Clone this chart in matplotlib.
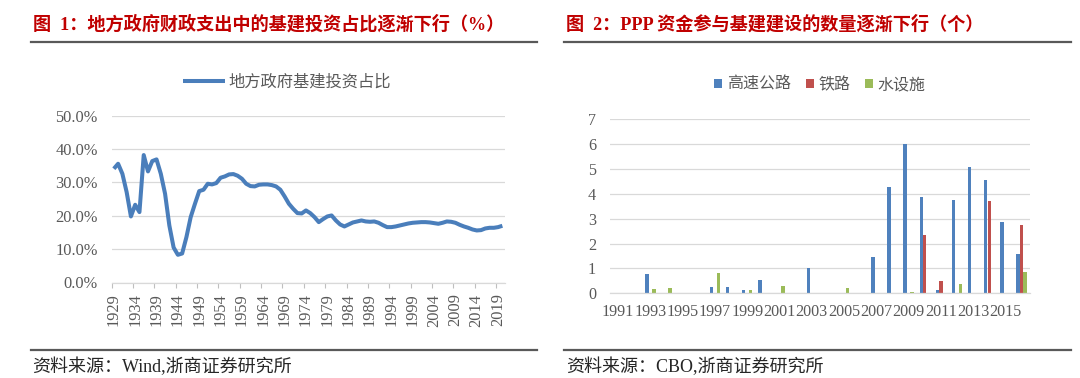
import matplotlib
matplotlib.use('Agg')
import matplotlib.pyplot as plt
from matplotlib.lines import Line2D
import numpy as np

# ---------------- data ----------------
years = list(range(1929, 2021))
infra_share = [
    34.1, 35.6, 32.6, 27.1, 19.8, 23.3, 21.1, 38.2, 33.3, 36.4,   # 1929-1938
    36.9, 32.6, 26.6, 17.1, 10.5, 8.3, 8.7, 13.6, 19.6, 23.6,     # 1939-1948
    27.4, 27.8, 29.6, 29.4, 29.8, 31.4, 31.8, 32.4, 32.5, 32.0,   # 1949-1958
    31.1, 29.6, 28.9, 28.8, 29.3, 29.4, 29.4, 29.2, 28.8, 27.8,   # 1959-1968
    25.8, 23.6, 22.1, 20.8, 20.7, 21.6, 20.8, 19.6, 18.1, 19.0,   # 1969-1978
    19.8, 20.1, 18.6, 17.4, 16.8, 17.4, 18.0, 18.3, 18.6, 18.3,   # 1979-1988
    18.2, 18.3, 17.9, 17.2, 16.6, 16.6, 16.8, 17.1, 17.4, 17.7,   # 1989-1998
    17.9, 18.0, 18.1, 18.1, 18.0, 17.8, 17.6, 17.9, 18.3, 18.2,   # 1999-2008
    17.9, 17.3, 16.8, 16.4, 15.9, 15.6, 15.7, 16.2, 16.4, 16.4,   # 2009-2018
    16.6, 17.0,                                                   # 2019-2020
]
line_label = '地方政府基建投资占比'

ppp_years = list(range(1991, 2017))
highway = [0, 0, 0.76, 0, 0, 0, 0.27, 0.27, 0.12, 0.52,
           0, 0, 1.02, 0, 0, 0, 1.45, 4.26, 6.0, 3.86,
           0.13, 3.75, 5.07, 4.56, 2.85, 1.58]
railway = [0, 0, 0, 0, 0, 0, 0, 0, 0, 0,
           0, 0, 0, 0, 0, 0, 0, 0, 0, 2.34,
           0.48, 0, 0, 3.72, 0, 2.76]
water = [0.02, 0, 0.16, 0.2, 0.03, 0, 0.83, 0, 0.15, 0,
         0.28, 0, 0, 0, 0.2, 0, 0, 0, 0.05, 0,
         0, 0.37, 0, 0.03, 0, 0.86]
bar_labels = ['高速公路', '铁路', '水设施']

title1 = '图  1：地方政府财政支出中的基建投资占比逐渐下行（%）'
title2 = '图  2：PPP 资金参与基建建设的数量逐渐下行（个）'
source1 = '资料来源：Wind,浙商证券研究所'
source2 = '资料来源：CBO,浙商证券研究所'

# ---------------- style ----------------
plt.rcParams['font.family'] = ['Liberation Serif', 'Noto Sans CJK SC']
W, H = 1080, 378
GRAY = '#595959'
GRID = '#D9D9D9'
RED = '#C00000'

fig = plt.figure(figsize=(W / 100, H / 100), dpi=100)


def px_rect(l, t, r, b):
    return [l / W, 1 - b / H, (r - l) / W, (b - t) / H]


def hline(x0, x1, y):
    fig.add_artist(Line2D([x0 / W, x1 / W], [1 - y / H, 1 - y / H],
                          color='#595959', lw=1.6, transform=fig.transFigure))


# ---------------- left chart ----------------
ax1 = fig.add_axes(px_rect(111.7, 115.7, 504.5, 282.5))
x1 = np.arange(len(years))
ln, = ax1.plot(x1, infra_share, color='#4A7EBB', lw=2.9,
               solid_joinstyle='round', solid_capstyle='butt')
ax1.set_xlim(-0.5, len(years) - 0.5)
ax1.set_ylim(0, 50)
yt = list(range(0, 51, 10))
ax1.set_yticks(yt)
ax1.set_yticklabels([f'{v:.1f}%' for v in yt])
lab_idx = list(range(0, len(years), 5))
ax1.set_xticks(lab_idx)
ax1.set_xticklabels([str(years[i]) for i in lab_idx], rotation=90)
ax1.set_xticks(np.arange(-0.5, len(years) - 1, 5), minor=True)
ax1.tick_params(axis='x', which='major', length=0, pad=8.0,
                labelsize=11.8, labelcolor=GRAY)
ax1.tick_params(axis='x', which='minor', length=3.6, color='#BFBFBF', width=0.8)
ax1.tick_params(axis='y', length=0, pad=10, labelsize=11.8, labelcolor=GRAY)
ax1.grid(axis='y', color=GRID, lw=0.9)
ax1.set_axisbelow(True)
for s in ['top', 'right', 'left']:
    ax1.spines[s].set_visible(False)
ax1.spines['bottom'].set_color(GRID)
ax1.spines['bottom'].set_linewidth(0.9)

ax1.legend([ln], [line_label], loc='center',
           bbox_to_anchor=(287.2 / W, 1 - 83 / H), bbox_transform=fig.transFigure,
           frameon=False, handlelength=2.6, handletextpad=0.2,
           fontsize=11.7, labelcolor=GRAY, borderpad=0)

# ---------------- right chart ----------------
ax2 = fig.add_axes(px_rect(610, 119, 1029.6, 293.3))
x2 = np.arange(len(ppp_years))
bw, off = 0.21, 0.215
b1 = ax2.bar(x2 - off, highway, bw, color='#4F81BD')
b2 = ax2.bar(x2, railway, bw, color='#C0504D')
b3 = ax2.bar(x2 + off, water, bw, color='#9BBB59')
ax2.set_xlim(-0.5, len(ppp_years) - 0.5)
ax2.set_ylim(0, 7)
ax2.set_yticks(range(0, 8))
ax2.set_xticks(x2[::2])
ax2.set_xticklabels([str(ppp_years[i]) for i in range(0, len(ppp_years), 2)])
ax2.tick_params(axis='x', length=0, pad=7.5, labelsize=11.6, labelcolor=GRAY)
ax2.tick_params(axis='y', length=0, pad=10, labelsize=11.6, labelcolor=GRAY)
ax2.grid(axis='y', color=GRID, lw=0.9)
ax2.set_axisbelow(True)
for s in ['top', 'right', 'left']:
    ax2.spines[s].set_visible(False)
ax2.spines['bottom'].set_color(GRID)
ax2.spines['bottom'].set_linewidth(0.9)

ax2.legend([b1, b2, b3], bar_labels, loc='center', ncol=3,
           bbox_to_anchor=(820 / W, 1 - 85 / H), bbox_transform=fig.transFigure,
           frameon=False, handlelength=0.5, handleheight=0.5, handletextpad=0.3,
           columnspacing=0.9, fontsize=11.5, labelcolor=GRAY, borderpad=0)

# ---------------- titles, rules, sources ----------------
fig.text(33 / W, 1 - 24 / H, title1, ha='left', va='center', fontsize=13.1,
         fontweight='bold', color=RED)
fig.text(566 / W, 1 - 24 / H, title2, ha='left', va='center', fontsize=13.1,
         fontweight='bold', color=RED)
hline(31, 537, 42)
hline(563.5, 1071, 42)
hline(31, 537, 350)
hline(563.5, 1071, 350)
fig.text(32 / W, 1 - 367 / H, source1, ha='left', va='center', fontsize=13,
         color='#262626')
fig.text(566 / W, 1 - 367 / H, source2, ha='left', va='center', fontsize=13,
         color='#262626')

fig.savefig('out.png', dpi=100)
